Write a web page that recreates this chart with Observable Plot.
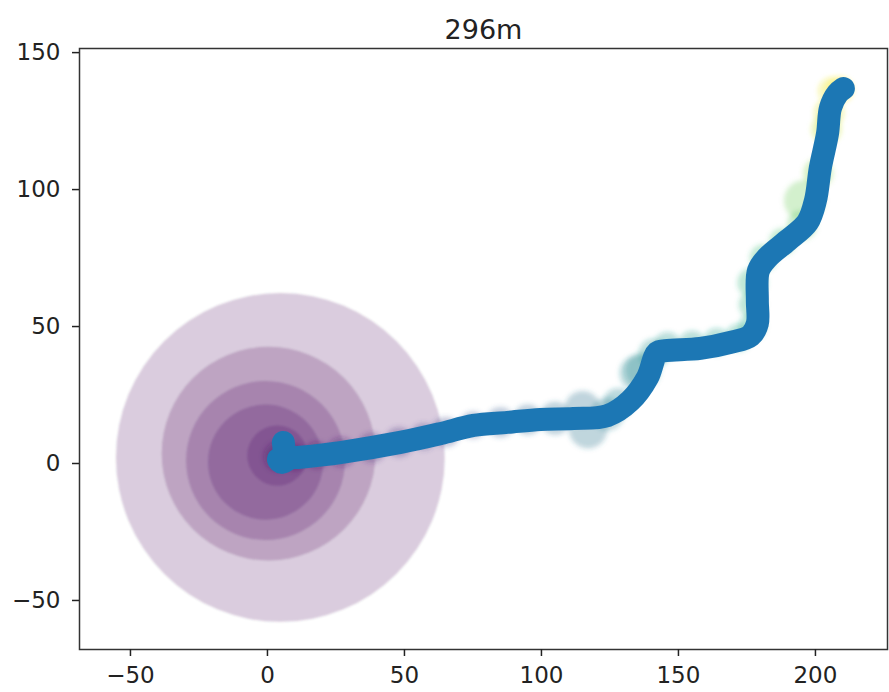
<!DOCTYPE html>
<html>
<head>
<meta charset="utf-8">
<script src="https://cdn.jsdelivr.net/npm/d3@7"></script>
<script src="https://cdn.jsdelivr.net/npm/@observablehq/plot@0.6"></script>
<style>
  html, body { margin: 0; padding: 0; background: white; }
</style>
</head>
<body>
<div id="chart"></div>
<script>
// ---- data ----
const title = "296m";
const xTicks = [-50, 0, 50, 100, 150, 200];
const yTicks = [-50, 0, 50, 100, 150];
const xDomain = [-68.6, 226.3];
const yDomain = [-67.9, 151.5];

// trajectory (blue)
const pathX = [5.8, 5.8, 4.0, 5.3, 8.4, 12.0, 26.6, 48.5, 63.1, 75.2, 87.6, 99.6, 111.7, 124.1, 132.5, 138.7, 142.3, 145.3, 158.0, 169.0, 176.3, 178.8, 178.8, 179.2, 182.5, 189.8, 197.1, 200.0, 201.8, 204.4, 205.5, 208.0, 210.2];
const pathY = [7.7, 2.5, 1.5, 0.4, 2.0, 2.3, 4.0, 7.7, 10.9, 13.9, 15.0, 16.1, 16.4, 17.5, 23.0, 31.4, 40.5, 41.2, 42.0, 44.2, 46.7, 51.1, 59.5, 70.4, 75.2, 81.4, 88.0, 96.0, 108.0, 120.4, 129.9, 135.0, 136.9];

// uncertainty circles (centre, radius in metres, time fraction)
const uncX = [4.7, 0.4, -0.7, -0.7, 3.6, 4.0, 5.0,
  10, 18, 27, 38, 48, 57, 65, 75, 85, 95, 105, 117, 115, 124, 128, 135, 137, 141, 146, 155, 164, 172, 177, 177, 177, 181, 188, 195, 196, 201, 204, 205, 206, 209];
const uncY = [2.2, 3.6, 1.1, 0.5, 2.9, 2.5, 2.0,
  2.2, 3.0, 4.2, 5.8, 7.8, 9.8, 11.5, 14, 15, 16, 16.5, 12.5, 20, 18, 22, 33, 34, 40, 43, 43.5, 44.5, 46, 50, 58, 66, 75, 81, 87, 96, 106, 122, 128, 136, 136.5];
const uncR = [60, 39, 29, 21, 11, 5.5, 4,
  5, 5, 5.5, 5.5, 5.5, 5, 5.5, 5, 5.5, 5.5, 6, 7, 6.5, 6, 5.5, 6.5, 6.5, 5.5, 5, 5, 5, 5, 5, 5, 5.5, 5, 5, 5.5, 7.5, 5.5, 5.5, 5.5, 5, 5];
const uncT = [0.0, 0.01, 0.02, 0.03, 0.04, 0.05, 0.06,
  0.03, 0.05, 0.08, 0.12, 0.16, 0.19, 0.22, 0.26, 0.29, 0.32, 0.35, 0.40, 0.39, 0.42, 0.44, 0.46, 0.48, 0.50, 0.52, 0.55, 0.57, 0.59, 0.61, 0.63, 0.65, 0.68, 0.71, 0.74, 0.78, 0.82, 0.90, 0.94, 0.97, 1.0];

// ---- build tables ----
const path = pathX.map((x, i) => ({x, y: pathY[i]}));
const unc = uncX.map((x, i) => ({x, y: uncY[i], r: uncR[i], t: uncT[i]}));
const discs = unc.filter(d => d.r >= 10);
const halos = unc.filter(d => d.r < 10);

// ---- layout ----
const W = 889, H = 692;
const mL = 79, mR = 2, mT = 48, mB = 43;
const k = (W - mL - mR) / (xDomain[1] - xDomain[0]); // px per metre

const chart = Plot.plot({
  width: W,
  height: H,
  marginLeft: mL,
  marginRight: mR,
  marginTop: mT,
  marginBottom: mB,
  x: {domain: xDomain, label: null},
  y: {domain: yDomain, label: null},
  r: {type: "linear", domain: [0, 100], range: [0, 100 * k]},
  color: {type: "linear", scheme: "viridis", domain: [0, 1]},
  style: {fontFamily: "DejaVu Sans", fontSize: "23px", color: "#222", background: "white"},
  marks: [
    Plot.dot(discs, {x: "x", y: "y", r: "r", fill: "t", fillOpacity: 0.2}),
    Plot.dot(halos, {x: "x", y: "y", r: "r", fill: "t", fillOpacity: 0.3}),
    Plot.line(path, {x: "x", y: "y", stroke: "#1f77b4", strokeWidth: 23, strokeLinecap: "round", strokeLinejoin: "round", curve: "catmull-rom"}),
    Plot.frame({stroke: "#333", strokeWidth: 1.5}),
    Plot.axisX({ticks: xTicks, tickSize: 7, tickPadding: 10, strokeWidth: 1.5, fontSize: 23, label: null}),
    Plot.axisY({ticks: yTicks, tickSize: 7, tickPadding: 12, strokeWidth: 1.5, fontSize: 23, label: null}),
    Plot.text([title], {frameAnchor: "top", dy: -10, lineAnchor: "bottom", fontSize: 27, text: d => d})
  ]
});

// soft edges, like the reference's overlapping translucent markers
const ns = "http://www.w3.org/2000/svg";
const defs = document.createElementNS(ns, "defs");
function addBlur(id, sd) {
  const f = document.createElementNS(ns, "filter");
  f.setAttribute("id", id);
  f.setAttribute("x", "-50%"); f.setAttribute("y", "-50%");
  f.setAttribute("width", "200%"); f.setAttribute("height", "200%");
  const b = document.createElementNS(ns, "feGaussianBlur");
  b.setAttribute("stdDeviation", sd);
  f.appendChild(b);
  defs.appendChild(f);
}
addBlur("blurDisc", 0.8);
addBlur("blurHalo", 2.5);
addBlur("blurLine", 0.6);
chart.insertBefore(defs, chart.firstChild);
const dotGroups = chart.querySelectorAll('g[aria-label="dot"]');
if (dotGroups[0]) dotGroups[0].setAttribute("filter", "url(#blurDisc)");
if (dotGroups[1]) dotGroups[1].setAttribute("filter", "url(#blurHalo)");
const lineGroup = chart.querySelector('g[aria-label="line"]');
if (lineGroup) lineGroup.setAttribute("filter", "url(#blurLine)");
document.getElementById("chart").appendChild(chart);
</script>
</body>
</html>
